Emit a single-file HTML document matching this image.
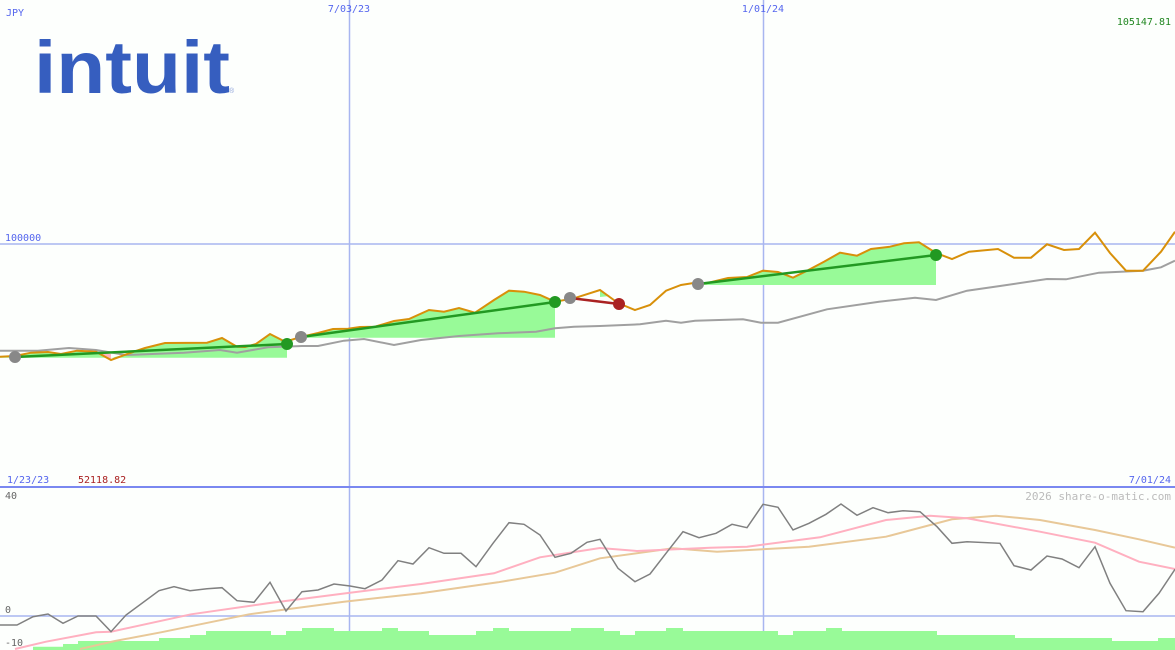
<!DOCTYPE html>
<html><head><meta charset="utf-8"><style>
html,body{margin:0;padding:0;background:#fdfffd;}
svg{display:block;}
text{font-family:"DejaVu Sans Mono","Liberation Mono",monospace;font-size:10px;}
</style></head><body>
<svg width="1175" height="650" viewBox="0 0 1175 650" xmlns="http://www.w3.org/2000/svg">
<rect width="1175" height="650" fill="#fdfffd"/>
<line x1="349.5" y1="0" x2="349.5" y2="650" stroke="#a8b6f0" stroke-width="1.5"/>
<line x1="763.5" y1="0" x2="763.5" y2="650" stroke="#a8b6f0" stroke-width="1.5"/>
<line x1="0" y1="244" x2="1175" y2="244" stroke="#a8b6f0" stroke-width="1.5"/>
<line x1="0" y1="616" x2="1175" y2="616" stroke="#a8b6f0" stroke-width="1.5"/>
<line x1="0" y1="487" x2="1175" y2="487" stroke="#7a88f0" stroke-width="2"/>
<text x="6" y="16" fill="#5566ee">JPY</text>
<text x="349" y="12" fill="#5566ee" text-anchor="middle">7/03/23</text>
<text x="763" y="12" fill="#5566ee" text-anchor="middle">1/01/24</text>
<text x="1171" y="25" fill="#228822" text-anchor="end">105147.81</text>
<text x="5" y="241" fill="#5566ee">100000</text>
<text x="7" y="483" fill="#5566ee">1/23/23</text>
<text x="78" y="483" fill="#aa2222">52118.82</text>
<text x="1171" y="483" fill="#5566ee" text-anchor="end">7/01/24</text>
<text x="1171" y="500" fill="#bbbbbb" text-anchor="end" style="font-size:11px">2026 share-o-matic.com</text>
<text x="5" y="499" fill="#666">40</text>
<text x="5" y="613" fill="#666">0</text>
<text x="5" y="646" fill="#666">-10</text>
<text x="34" y="93" fill="#365ebf" textLength="196" lengthAdjust="spacingAndGlyphs" style="font-family:'Liberation Sans',sans-serif;font-weight:bold;font-size:74px">intuit</text>
<text x="229" y="93" fill="#8aa0d8" style="font-family:'Liberation Sans',sans-serif;font-size:7px">®</text>
<g fill="#98fa98">
<polygon points="0,357.7 0,356.7 15,356 31,352.7 48,352 61,354 77,350.7 96,351.7 111,358 130,353 145,348 157,345 165,343 207,342.7 222,338 237,346.7 245,347 256,344 270,334 285,341.7 287,343 287,357.7"/>
<polygon points="301,337.7 301,337 318,333 333,329 348,328.7 360,327 375,326.7 394,321 409,319 429,310 444,311.7 459,308 475,312.7 494,300 509,290.7 524,291.7 540,295 555,301.7 555,337.7"/>
<polygon points="698,285 706,283.3 728,278 747,277 763,270.7 778,272 793,277.7 807,270.7 824,261.7 840,252.7 857,255.7 871,249 890,246.7 904,243.3 919,242.3 936,253 936,285"/>
<polygon points="600,290 610,296 600,297"/>
</g>
<polygon points="96,352 111,360 111,354" fill="#ffb6c1"/>
<polyline fill="none" stroke="#a0a0a0" stroke-width="2" points="0,350.7 38,350.7 69,348 96,350 126,355 184,352.7 220,350 237,352.7 268,347.3 302,346 318,346 344,340.7 364,339 394,345 421,340 459,336 498,333.3 536,331.7 555,328.3 574,326.7 600,326 640,324.3 666,320.7 681,322.7 695,320.7 743,319.3 761,322.7 778,322.7 827,309.3 879,301.7 915,297.7 936,300 967,290.7 1000,286 1047,279 1066,279.3 1099,272.7 1143,270.7 1161,267.3 1175,260.7"/>
<polyline fill="none" stroke="#d8900a" stroke-width="2" points="0,356.7 15,356 31,352.7 48,352 61,354 77,350.7 96,351.7 111,360 130,353 145,348 157,345 165,343 207,342.7 222,338 237,346.7 245,347 256,344 270,334 285,341.7 302,336.7 318,333 333,329 348,328.7 360,327 375,326.7 394,321 409,319 429,310 444,311.7 459,308 475,312.7 494,300 509,290.7 524,291.7 540,295 555,301.7 574,298.3 600,290 618,303 635,310 650,305 666,290.7 681,285 692,283.3 706,283.3 728,278 747,277 763,270.7 778,272 793,277.7 807,270.7 824,261.7 840,252.7 857,255.7 871,249 890,246.7 904,243.3 919,242.3 936,253 952,259 969,251.7 998,249 1014,257.7 1031,257.7 1047,244.3 1064,250 1079,249 1095,232.7 1110,253 1126,270.7 1143,270.7 1161,251.7 1175,231.7"/>
<g stroke-width="2.5" fill="none">
<line x1="15" y1="357" x2="287" y2="344" stroke="#229922"/>
<line x1="301" y1="337" x2="555" y2="302" stroke="#229922"/>
<line x1="570" y1="298" x2="619" y2="304" stroke="#aa2222"/>
<line x1="698" y1="284" x2="936" y2="255" stroke="#229922"/>
</g>
<g>
<circle cx="15" cy="357" r="6" fill="#888"/>
<circle cx="301" cy="337" r="6" fill="#888"/>
<circle cx="570" cy="298" r="6" fill="#888"/>
<circle cx="698" cy="284" r="6" fill="#888"/>
<circle cx="287" cy="344" r="6" fill="#229922"/>
<circle cx="555" cy="302" r="6" fill="#229922"/>
<circle cx="936" cy="255" r="6" fill="#229922"/>
<circle cx="619" cy="304" r="6" fill="#aa2222"/>
</g>
<path fill="#98fa98" d="M33,650 V646.7 H63 V644 H78 V641 H159 V638 H190 V635 H206 V631 H271 V635 H286 V631 H302 V628 H334 V631 H382 V628 H398 V631 H429 V635 H476 V631 H493 V628 H509 V631 H571 V628 H604 V631 H620 V635 H635 V631 H666 V628 H683 V631 H778 V635 H793 V631 H826 V628 H842 V631 H937 V635 H1015 V638 H1112 V641 H1158 V638 H1175 V650 Z"/>
<polyline fill="none" stroke="#e8c898" stroke-width="2" points="80,649 115,641 161,632.3 249,614.3 344,601.7 421,593.3 498,582.3 555,572.7 600,558.3 673,548.3 717,551.7 809,546.7 886,536.7 952,519.3 996,515.7 1040,520 1095,530 1139,539.3 1175,547.7"/>
<polyline fill="none" stroke="#ffb0c0" stroke-width="2" points="15,649 46,641.7 96,632.3 111,631.7 191,614.3 268,603.3 350,592.7 421,584 494,573.3 540,557.3 600,548 637,551 710,547.7 747,546.7 820,537.3 886,520 930,515.7 967,518.3 1040,531.7 1095,542.7 1139,561.7 1175,569"/>
<polyline fill="none" stroke="#808080" stroke-width="1.5" points="0,625 17,625 33,616.7 48,614 63,623.3 78,616 96,616 111,631.7 126,615 159,590.7 174,586.7 190,590.7 207,588.7 222,587.7 237,600.7 254,602.3 270,582.3 286,611 302,591.7 318,590 334,584 350,586 365,588.7 382,580 398,560.7 413,564 429,547.7 444,553.3 461,553.3 476,566.7 493,543.3 509,522.7 524,524.3 540,535 555,557.3 571,553.3 587,542.3 600,539.3 618,568.3 635,581.7 650,574 666,553.3 683,531.7 699,537.7 716,533.3 732,524.3 747,527.7 763,504.3 778,507.3 793,530 809,523.3 826,514.3 841,504 857,515.3 873,507.7 888,512.7 903,510.7 920,511.7 937,526.7 952,543.3 967,541.7 1000,543.3 1014,565.7 1031,570 1047,556 1062,559 1079,567.7 1095,546.7 1110,583.3 1126,610.7 1143,611.7 1159,593.3 1175,569.3"/>
</svg>
</body></html>
